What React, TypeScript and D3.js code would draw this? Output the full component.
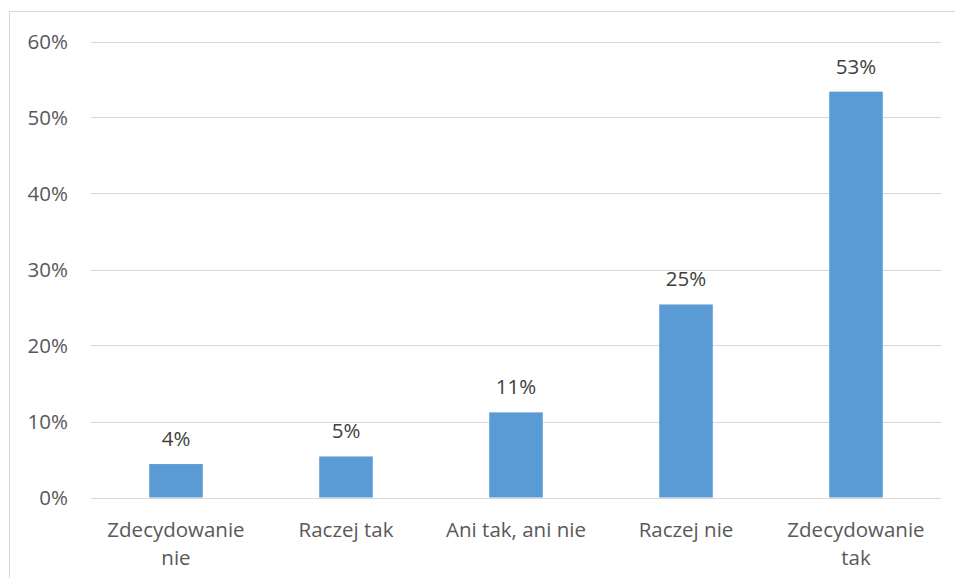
import React, { useEffect, useRef } from "react";
import * as d3 from "d3";

const categories = ["Zdecydowanie nie", "Raczej tak", "Ani tak, ani nie", "Raczej nie", "Zdecydowanie tak"];
const values = [0.044, 0.054, 0.112, 0.254, 0.534];
const valueLabels = ["4%", "5%", "11%", "25%", "53%"];
const yTicks = [0, 0.1, 0.2, 0.3, 0.4, 0.5, 0.6];

const W = 955;
const H = 578;
const FONT = "'Open Sans', 'Noto Sans', sans-serif";
const FS = 20.5;

export default function App() {
  const ref = useRef<SVGSVGElement | null>(null);

  useEffect(() => {
    const svg = d3.select(ref.current);
    svg.selectAll("*").remove();

    const left = 91, right = 941, top = 41.5, bottom = 497.5;

    svg.append("rect")
      .attr("x", 9.5).attr("y", 11.5)
      .attr("width", W + 20).attr("height", H + 20)
      .attr("fill", "#fff").attr("stroke", "#d9d9d9").attr("stroke-width", 1);

    const x = d3.scaleBand<string>().domain(categories).range([left, right]).paddingInner(0.685).paddingOuter(0.3425);
    const y = d3.scaleLinear().domain([0, 0.6]).range([bottom, top]);

    const g = svg.append("g");
    g.selectAll("line.grid").data(yTicks).enter().append("line")
      .attr("x1", left).attr("x2", right)
      .attr("y1", d => Math.round(y(d)) + 0.5).attr("y2", d => Math.round(y(d)) + 0.5)
      .attr("stroke", "#d9d9d9").attr("stroke-width", 1);

    g.selectAll("text.ytick").data(yTicks).enter().append("text")
      .attr("x", 68).attr("y", d => y(d))
      .attr("dy", "0.35em")
      .attr("text-anchor", "end")
      .attr("font-family", FONT).attr("font-size", FS).attr("fill", "#595959")
      .text(d => d3.format(".0%")(d));

    g.selectAll("rect.bar").data(values).enter().append("rect")
      .attr("x", (_, i) => x(categories[i])!)
      .attr("width", x.bandwidth())
      .attr("y", d => y(d))
      .attr("height", d => y(0) - y(d))
      .attr("fill", "#5b9bd5");

    g.selectAll("text.vlabel").data(values).enter().append("text")
      .attr("x", (_, i) => x(categories[i])! + x.bandwidth() / 2)
      .attr("y", d => y(d) - 18)
      .attr("text-anchor", "middle")
      .attr("font-family", FONT).attr("font-size", FS).attr("fill", "#404040")
      .text((_, i) => valueLabels[i]);

    const step = x.step();
    categories.forEach(c => {
      const cx = x(c)! + x.bandwidth() / 2;
      const t = g.append("text")
        .attr("x", cx)
        .attr("y", 537)
        .attr("text-anchor", "middle")
        .attr("font-family", FONT).attr("font-size", FS).attr("fill", "#595959");
      const words = c.split(" ");
      let line: string[] = [];
      let tspan = t.append("tspan").attr("x", cx).attr("dy", 0);
      words.forEach(w => {
        line.push(w);
        tspan.text(line.join(" "));
        if ((tspan.node() as SVGTSpanElement).getComputedTextLength() > step - 6 && line.length > 1) {
          line.pop();
          tspan.text(line.join(" "));
          line = [w];
          tspan = t.append("tspan").attr("x", cx).attr("dy", 28).text(w);
        }
      });
    });
  }, []);

  return (
    <svg ref={ref} width={W} height={H}
      style={{ position: "absolute", left: 0, top: 0, display: "block", background: "#fff" }} />
  );
}
